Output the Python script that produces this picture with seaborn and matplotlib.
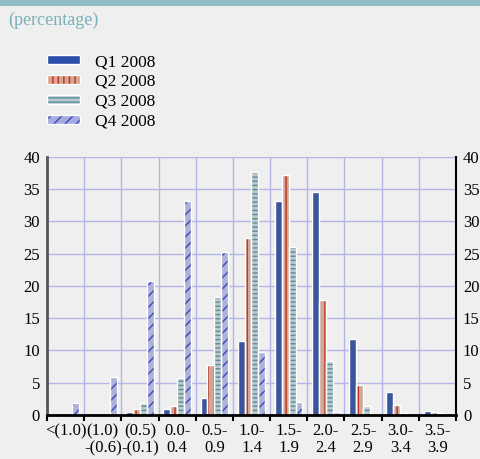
import pandas as pd
import matplotlib.pyplot as plt
import seaborn as sns
from matplotlib.patches import Patch, Rectangle
from matplotlib.ticker import MultipleLocator
from matplotlib.legend_handler import HandlerTuple

# Datos
categorias = ["<(1.0)", "(1.0)\n-(0.6)", "(0.5)\n-(0.1)", "0.0-\n0.4", "0.5-\n0.9",
              "1.0-\n1.4", "1.5-\n1.9", "2.0-\n2.4", "2.5-\n2.9", "3.0-\n3.4", "3.5-\n3.9"]
trimestres = ["Q1 2008", "Q2 2008", "Q3 2008", "Q4 2008"]
q1 = [0.0, 0.0, 0.5, 1.0, 2.7, 11.4, 33.1, 34.5, 11.8, 3.5, 0.6]
q2 = [0.0, 0.0, 0.9, 1.4, 7.7, 27.4, 37.2, 17.8, 4.7, 1.6, 0.4]
q3 = [0.0, 0.0, 1.8, 5.7, 18.3, 37.6, 26.1, 8.4, 1.4, 0.3, 0.3]
q4 = [1.8, 5.9, 20.7, 33.2, 25.3, 9.8, 2.0, 0.4, 0.1, 0.0, 0.0]

relleno = ["#2b4eab", "#d9a38f", "#b8cacf", "#a7abe0"]
trama = ["", "|||", "----", "///"]
color_trama = ["#2b4eab", "#b8321f", "#5b8e98", "#3a4cb5"]

df = pd.DataFrame({
    "categoria": categorias * 4,
    "trimestre": [t for t in trimestres for _ in categorias],
    "valor": q1 + q2 + q3 + q4,
})

bg = "#efefef"
plt.rcParams["font.family"] = ["Liberation Serif", "DejaVu Serif"]
plt.rcParams["hatch.linewidth"] = 1.0

fig = plt.figure(figsize=(4.81, 4.59), dpi=100, facecolor=bg)
ax = fig.add_axes([0.0977, 0.0959, 0.8503, 0.5621], facecolor=bg)

sns.barplot(data=df, x="categoria", y="valor", hue="trimestre", order=categorias,
            hue_order=trimestres, palette=relleno, width=0.74, gap=0,
            legend=False, ax=ax, zorder=2)

# Tramas y bordes blancos
for cont, h, hc in zip(ax.containers, trama, color_trama):
    for bar in cont:
        bar.set_hatch(h)
        bar.set_edgecolor(hc)
        bar.set_linewidth(0)
        if bar.get_height() > 0:
            ax.add_patch(Rectangle(bar.get_xy(), bar.get_width(), bar.get_height(),
                                   fill=False, edgecolor="white", lw=1, zorder=3))
        else:
            bar.set_visible(False)

ax.set_xlim(-0.5, len(categorias) - 0.5)
ax.set_ylim(0, 40)
ax.yaxis.set_major_locator(MultipleLocator(5))
ax.xaxis.set_minor_locator(MultipleLocator(1, offset=0.5))
ax.set_xlabel("")
ax.set_ylabel("")

ax.grid(axis="y", which="major", color="#b3b5e6", lw=1, zorder=0)
ax.grid(axis="x", which="minor", color="#b3b5e6", lw=1, zorder=0)
ax.set_axisbelow(True)

ax.tick_params(axis="y", length=0, labelsize=12, labelright=True, pad=5)
ax.tick_params(axis="x", which="major", length=0, labelsize=12, pad=6)
ax.tick_params(axis="x", which="minor", length=4, width=1.5, color="black")
for lbl in ax.get_xticklabels():
    lbl.set_linespacing(1.05)

ax.spines["top"].set_visible(False)
ax.spines["left"].set_color("#555555")
ax.spines["left"].set_linewidth(2)
ax.spines["right"].set_color("black")
ax.spines["right"].set_linewidth(1.5)
ax.spines["bottom"].set_color("black")
ax.spines["bottom"].set_linewidth(2)
ax.spines["bottom"].set_zorder(4)

# Leyenda
handles = [(Patch(facecolor=f, edgecolor=hc, hatch=h, lw=0),
            Patch(fill=False, edgecolor="white", lw=1))
           for f, h, hc in zip(relleno, trama, color_trama)]
fig.legend(handles, trimestres, loc="upper left", bbox_to_anchor=(0.0977, 0.882),
           frameon=False, fontsize=12.5, handlelength=1.9, handleheight=0.42,
           handletextpad=0.85, labelspacing=0.22, borderpad=0, borderaxespad=0,
           handler_map={tuple: HandlerTuple(ndivide=1)})

# Banda superior y subtitulo
fig.patches.append(Rectangle((0, 1 - 6 / 459), 1, 6 / 459, transform=fig.transFigure,
                             facecolor="#8fbcc5", edgecolor="none"))
fig.text(0.017, 0.955, "(percentage)", color="#7ab1b9", fontsize=13, va="center")

plt.savefig("out.png", dpi=100, facecolor=bg)
